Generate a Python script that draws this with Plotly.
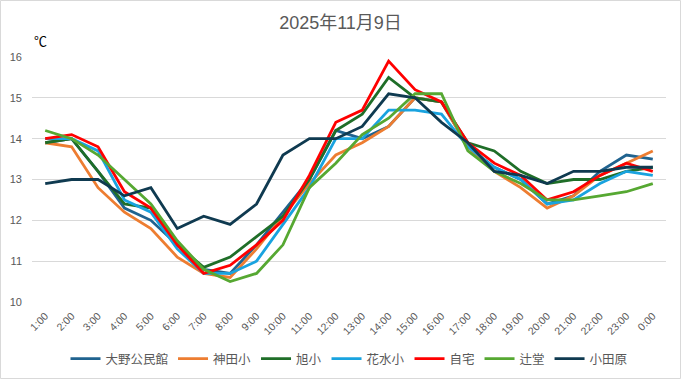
import plotly.graph_objects as go

hours = ["1:00", "2:00", "3:00", "4:00", "5:00", "6:00", "7:00", "8:00", "9:00", "10:00",
         "11:00", "12:00", "13:00", "14:00", "15:00", "16:00", "17:00", "18:00", "19:00",
         "20:00", "21:00", "22:00", "23:00", "0:00"]

ono = [13.9, 14.0, 13.2, 12.3, 12.0, 11.4, 10.8, 10.7, 11.4, 12.2, 13.0, 14.2, 14.0, 14.3,
       15.0, 14.9, 13.8, 13.3, 13.0, 12.4, 12.6, 13.2, 13.6, 13.5]
kanda = [13.9, 13.8, 12.8, 12.2, 11.8, 11.1, 10.7, 10.6, 11.3, 12.1, 12.9, 13.6, 13.9, 14.3,
         15.0, 14.9, 13.8, 13.2, 12.8, 12.3, 12.6, 13.1, 13.4, 13.7]
asahi = [13.9, 14.0, 13.2, 12.4, 12.3, 11.4, 10.85, 11.1, 11.6, 12.1, 13.0, 14.2, 14.6, 15.5,
         15.0, 14.9, 13.9, 13.7, 13.2, 12.9, 13.0, 13.0, 13.2, 13.3]
hanamizu = [14.0, 14.0, 13.7, 12.5, 12.2, 11.3, 10.7, 10.7, 11.0, 11.9, 12.8, 14.0, 14.0, 14.7,
            14.7, 14.6, 13.8, 13.3, 13.0, 12.4, 12.5, 12.9, 13.2, 13.1]
jitaku = [14.0, 14.1, 13.8, 12.7, 12.3, 11.4, 10.7, 10.9, 11.4, 12.0, 13.1, 14.4, 14.7, 15.9,
          15.2, 14.9, 13.9, 13.4, 13.1, 12.5, 12.7, 13.1, 13.4, 13.2]
tsujido = [14.2, 14.0, 13.6, 13.0, 12.4, 11.5, 10.8, 10.5, 10.7, 11.4, 12.8, 13.4, 14.1, 14.5,
           15.1, 15.1, 13.7, 13.2, 12.9, 12.5, 12.5, 12.6, 12.7, 12.9]
odawara = [12.9, 13.0, 13.0, 12.6, 12.8, 11.8, 12.1, 11.9, 12.4, 13.6, 14.0, 14.0, 14.3, 15.1,
           15.0, 14.4, 13.9, 13.2, 13.1, 12.9, 13.2, 13.2, 13.3, 13.3]

series_names = ["大野公民館", "神田小", "旭小", "花水小", "自宅", "辻堂", "小田原"]
series_values = [ono, kanda, asahi, hanamizu, jitaku, tsujido, odawara]
series_colors = ["#20638F", "#ED7D31", "#1F6E28", "#19A3DF", "#FF0000", "#56A832", "#0F3A50"]

y_ticks = [10, 11, 12, 13, 14, 15, 16]

FONT = "Liberation Sans, Noto Sans CJK JP, sans-serif"
W, H = 681, 379
ML, MR, MT, MB = 32, 15, 57, 77

fig = go.Figure()
for name, vals, col in zip(series_names, series_values, series_colors):
    fig.add_trace(go.Scatter(x=hours, y=vals, name=name, mode="lines",
                             line=dict(color=col, width=2.8)))

pw = W - ML - MR
ph = H - MT - MB

fig.update_layout(
    width=W, height=H,
    margin=dict(l=ML, r=MR, t=MT, b=MB, autoexpand=False),
    paper_bgcolor="white", plot_bgcolor="white",
    font=dict(family=FONT, color="#595959", size=11),
    title=dict(text="2025年11月9日", x=0.5, xanchor="center", y=1 - 23 / H, yanchor="middle",
               font=dict(size=18, color="#595959", family=FONT)),
    xaxis=dict(type="category", range=[-0.5, len(hours) - 0.5], tickangle=-45,
               tickfont=dict(size=10.5, color="#595959"), automargin=False,
               ticklabelstandoff=5,
               showgrid=False, showline=False, zeroline=False, ticks=""),
    yaxis=dict(range=[10, 16], tickvals=y_ticks, showgrid=True, gridcolor="#D9D9D9",
               gridwidth=1, zeroline=False, showline=False, ticks="", automargin=False,
               tickfont=dict(size=11, color="#595959"), ticklabelstandoff=9),
    legend=dict(orientation="h", x=0.5, xanchor="center", y=-(359 - (H - MB)) / ph,
                yanchor="middle", font=dict(size=12.5, color="#595959"),
                bgcolor="rgba(0,0,0,0)"),
    showlegend=True,
    annotations=[dict(text="℃", xref="paper", yref="paper", x=(40 - ML) / pw,
                      y=1 + (MT - 42) / ph, xanchor="center", yanchor="middle",
                      showarrow=False, font=dict(size=13, color="#000000", family=FONT))],
    shapes=[dict(type="rect", xref="paper", yref="paper",
                 x0=-(ML - 0.5) / pw, x1=1 + (MR - 0.5) / pw,
                 y0=-(MB - 0.5) / ph, y1=1 + (MT - 0.5) / ph,
                 line=dict(color="#D9D9D9", width=1), layer="below")],
)

fig.write_html("out.html", config={"displayModeBar": False},
               post_script="document.body.style.margin='0';document.body.style.overflow='hidden';")
